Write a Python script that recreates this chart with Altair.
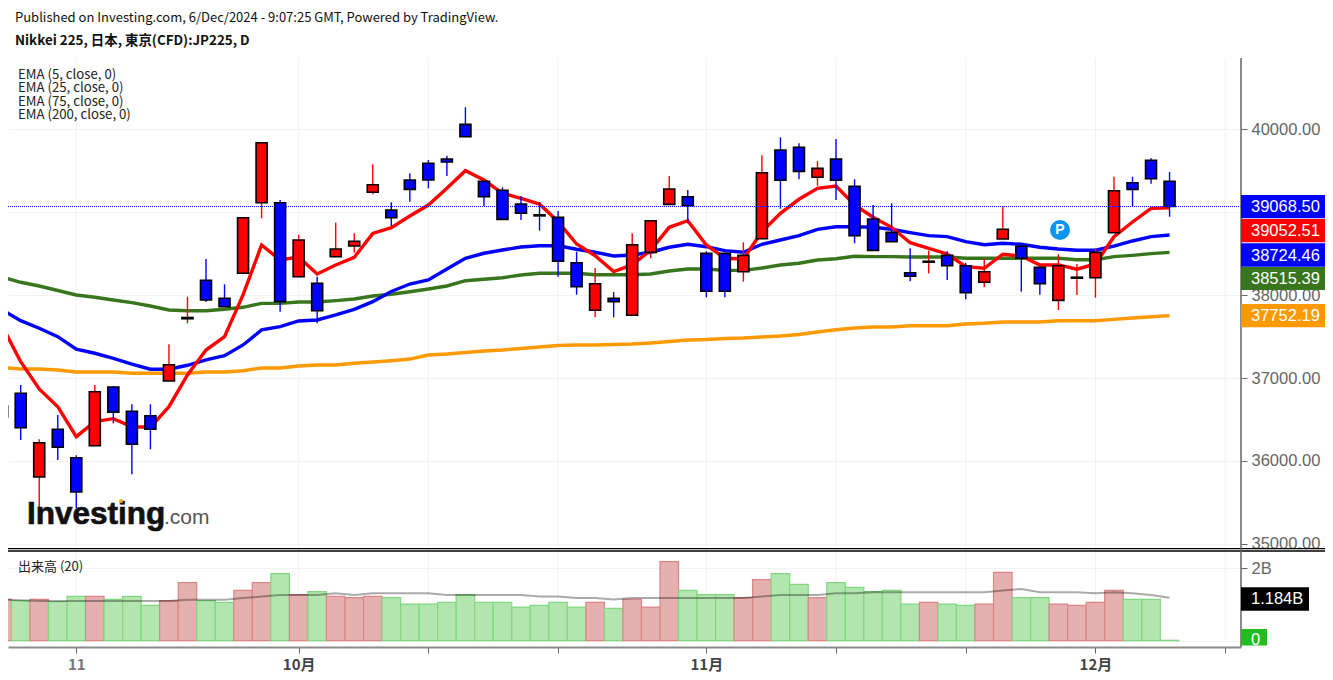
import altair as alt
import pandas as pd

HEADER = "Published on Investing.com, 6/Dec/2024 - 9:07:25 GMT, Powered by TradingView."
SYMBOL = "Nikkei 225, 日本, 東京(CFD):JP225, D"
LEGENDS = ["EMA (5, close, 0)", "EMA (25, close, 0)", "EMA (75, close, 0)", "EMA (200, close, 0)"]

bar_index = list(range(-1, 63))
opens = [36530,36816,35806,36382,36039,36184,36892,36599,36546,36964,37715,38179,37962,38263,39114,39114,38222,38142,38463,38592,39240,39026,39388,39590,39641,40060,39373,39264,39099,38968,38938,38391,37817,37962,37757,38516,39095,39187,38504,38504,38282,38680,39750,39783,39421,39641,39312,38918,38757,38270,38397,38480,38355,38155,38677,38589,38335,37937,38204,38210,38753,39356,39626,39373]
highs = [36700,36916,36261,36554,36068,36916,36904,36683,36683,37407,37981,38435,38130,38934,39838,39147,38725,38222,38873,38745,39578,39119,39469,39629,39681,40265,39373,39300,39195,39119,39014,38524,38327,38037,38745,38897,39436,39268,38528,38510,38637,39686,39903,39831,39617,39883,39397,39087,39107,38565,38536,38528,38387,38432,39075,38600,38345,38492,38375,38565,39428,39428,39650,39485]
lows = [36480,36253,35433,36011,35433,36184,36454,35839,36140,36964,37660,37917,37857,38263,38926,37800,38222,37660,38463,38511,39216,38833,39127,39288,39436,39910,39075,38914,38906,38777,38222,38005,37732,37732,37757,38444,39095,38866,37974,37974,38162,38680,39042,39397,39319,39147,38625,38540,38644,38167,38263,38182,37949,38094,38677,38041,38005,37820,38001,37969,38753,39075,39344,38946]
closes = [36663,36401,36220,36165,35625,36835,36587,36201,36382,37161,37730,37941,37860,38934,39838,37921,38665,37812,38556,38649,39332,38934,39276,39388,39605,39910,39187,38914,38987,38956,38408,38101,38138,37921,38608,38897,39280,39078,38046,38046,38480,39476,39385,39493,39529,39386,38717,38540,38644,38227,38409,38355,38029,38282,38794,38444,38138,38355,38216,38516,39259,39276,39404,39068.5]
ema5 = [37628,37197,36868,36654,36293,36474,36510,36413,36406,36654,37037,37338,37498,38002,38605,38424,38460,38255,38364,38456,38745,38813,38954,39087,39288,39501,39388,39228,39168,39099,38886,38617,38475,38283,38364,38544,38818,38898,38605,38444,38436,38765,38987,39156,39288,39316,39087,38939,38818,38632,38565,38496,38343,38324,38493,38472,38364,38364,38312,38376,38705,38882,39047,39052.51]
ema25 = [37821,37692,37600,37499,37347,37299,37238,37169,37106,37106,37154,37218,37270,37399,37580,37619,37688,37700,37761,37829,37921,38044,38134,38183,38315,38444,38505,38544,38581,38596,38596,38553,38517,38472,38484,38517,38577,38613,38584,38536,38517,38613,38665,38717,38794,38825,38825,38818,38794,38753,38717,38705,38645,38608,38625,38613,38577,38556,38541,38541,38592,38653,38705,38724.46]
ema75 = [38218,38155,38110,38056,38002,37974,37941,37909,37869,37821,37812,37812,37829,37853,37901,37901,37917,37917,37933,37953,37990,38010,38041,38074,38110,38174,38191,38210,38243,38263,38263,38263,38246,38246,38246,38255,38291,38315,38315,38299,38299,38327,38363,38384,38424,38439,38468,38464,38464,38460,38460,38460,38444,38444,38444,38444,38444,38444,38427,38427,38464,38480,38500,38515.39]
ema200 = [37127,37109,37109,37097,37073,37073,37073,37057,37057,37057,37057,37073,37073,37088,37121,37121,37145,37157,37157,37178,37193,37209,37229,37278,37290,37308,37326,37338,37356,37374,37392,37398,37398,37404,37410,37422,37441,37459,37465,37477,37483,37495,37507,37525,37555,37583,37603,37615,37615,37631,37631,37631,37652,37660,37676,37676,37676,37691,37691,37691,37708,37724,37740,37752.19]
volume = [1.142,1.105,1.142,1.077,1.225,1.225,1.142,1.225,0.976,1.105,1.602,1.105,1.059,1.390,1.602,1.851,1.271,1.354,1.225,1.188,1.225,1.188,1.013,1.013,1.059,1.271,1.059,1.059,0.930,0.976,1.059,0.930,1.059,0.893,1.142,0.930,2.182,1.390,1.271,1.271,1.188,1.685,1.851,1.556,1.188,1.602,1.473,1.354,1.390,1.013,1.059,1.013,0.976,1.013,1.888,1.188,1.188,1.013,0.976,1.059,1.390,1.142,1.142,0.012]
vol_ma = [1.14,1.12,1.10,1.10,1.10,1.10,1.10,1.10,1.10,1.10,1.13,1.13,1.13,1.18,1.22,1.26,1.26,1.26,1.31,1.26,1.31,1.31,1.31,1.31,1.26,1.26,1.26,1.26,1.26,1.22,1.22,1.18,1.18,1.14,1.18,1.18,1.18,1.18,1.18,1.18,1.18,1.22,1.26,1.26,1.26,1.31,1.31,1.34,1.34,1.34,1.34,1.34,1.34,1.34,1.39,1.43,1.34,1.34,1.34,1.31,1.34,1.31,1.26,1.184]

tick_index = [3, 15, 22, 29, 37, 44, 51, 58, 65]
tick_labels = ["11", "10月", "", "", "11月", "", "", "12月", ""]
price_ticks = [35000, 36000, 37000, 38000, 39000, 40000]
vol_ticks = [0, 2]
last_price = 39068.5
price_tags = [("39068.50", "#0000ff"), ("39052.51", "#ff0000"), ("38724.46", "#0000ff"), ("38515.39", "#38761d"), ("37752.19", "#ff9900")]

df = pd.DataFrame(dict(i=bar_index, o=opens, h=highs, l=lows, c=closes, ema5=ema5, ema25=ema25,
                       ema75=ema75, ema200=ema200, vol=volume, ma=vol_ma))
ticks = pd.DataFrame({"i": tick_index})
one = pd.DataFrame({"a": [0]})

W, H = 1233, 639
PAD_R = 84
RIGHT = 8 + W + PAD_R
SANS = "Liberation Sans"
NOTO = "Noto Sans CJK JP"
up = "datum.c >= datum.o"

xs = alt.Scale(domain=[-0.685, 65.855], nice=False, zero=False, padding=0)
ps = alt.Scale(domain=[34950, 40860], range=[540, 50], nice=False, zero=False)
vs = alt.Scale(domain=[0, 2.5], range=[632.7, 542.2], nice=False, zero=True)

lab_expr = " : ".join(f"datum.value === {t} ? '{l}'" for t, l in zip(tick_index, tick_labels)) + " : ''"
x_axis = alt.Axis(values=tick_index, labelExpr=lab_expr, title=None, grid=False, domainColor="#8a8a8a", domainWidth=2,
                  tickColor="#666666", tickSize=6, tickWidth=1, labelFont=NOTO, labelFontSize=15, labelPadding=4,
                  labelFontWeight="bold",
                  labelColor={"condition": {"test": "datum.value === 3", "value": "#777777"}, "value": "#444444"},
                  labelOverlap=False, labelFlush=False)
p_axis = alt.Axis(orient="right", values=price_ticks, format=".2f", title=None, grid=True, gridColor="#f2f2f2", gridWidth=1,
                  domain=False, tickColor="#666666", tickSize=6, labelColor="#666666", labelFont=SANS, labelFontSize=16.5,
                  labelPadding=4, labelOverlap=False)
v_axis = alt.Axis(orient="right", values=vol_ticks, labelExpr="datum.value === 2 ? '2B' : ''", title=None, grid=True,
                  gridColor="#f2f2f2", gridWidth=1, domain=False, tickColor="#666666", tickSize=6, labelColor="#666666",
                  labelFont=SANS, labelFontSize=16.5, labelPadding=4, labelOverlap=False)
xn = alt.X("i:Q", scale=xs, axis=x_axis)

base = alt.Chart(df)
vgrid = alt.Chart(ticks).mark_rule(color="#f2f2f2", strokeWidth=1).encode(
    x=xn, y=alt.value(50), y2=alt.value(632))


def ema(col, color):
    return base.mark_line(color=color, strokeWidth=3.4, clip=True).encode(
        x=xn, y=alt.Y(f"{col}:Q", scale=ps, axis=p_axis))


wicks = base.mark_rule(strokeWidth=1.4, clip=True).encode(
    x=xn, y=alt.Y("l:Q", scale=ps, axis=p_axis), y2="h:Q",
    color=alt.condition(up, alt.value("#ff0000"), alt.value("#0000ff")))
bodies = base.mark_bar(size=11, stroke="#000000", strokeWidth=1.6, clip=True).encode(
    x=xn, y=alt.Y("o:Q", scale=ps, axis=p_axis), y2="c:Q",
    fill=alt.condition(up, alt.value("#ff0000"), alt.value("#0000ff")))
lastline = alt.Chart(pd.DataFrame({"p": [last_price]})).mark_rule(color="#0000ff", strokeWidth=1, strokeDash=[1, 1]).encode(
    y=alt.Y("p:Q", scale=ps, axis=p_axis))
price = alt.layer(vgrid, ema("ema200", "#ff9900"), ema("ema75", "#38761d"), ema("ema25", "#0000ff"), ema("ema5", "#ff0000"),
                  wicks, bodies, lastline)

vbars = base.mark_bar(size=18.53, strokeWidth=1.2, clip=True).encode(
    x=xn, y=alt.Y("vol:Q", scale=vs, axis=v_axis),
    fill=alt.condition(up, alt.value("#e6b0b0"), alt.value("#b2e6ae")),
    stroke=alt.condition(up, alt.value("#dc8585"), alt.value("#80d880")))
vline = base.mark_line(color="#000000", opacity=0.33, strokeWidth=2, clip=True).encode(
    x=xn, y=alt.Y("ma:Q", scale=vs, axis=v_axis))
vol = alt.layer(vbars, vline)


def text(s, px, py, size=12, font=NOTO, color="#222222", align="left", weight="normal", **kw):
    return alt.Chart(one).mark_text(text=s, font=font, fontSize=size, color=color, align=align, baseline="middle",
                                    fontWeight=weight, **kw).encode(x=alt.value(px - 8), y=alt.value(py - 8))


def box(x0, x1, y0, y1, color):
    return alt.Chart(one).mark_rect(color=color).encode(
        x=alt.value(x0 - 8), x2=alt.value(x1 - 8), y=alt.value(y0 - 8), y2=alt.value(y1 - 8))


def hline(x0, x1, y, color, w):
    return alt.Chart(one).mark_rule(color=color, strokeWidth=w).encode(
        x=alt.value(x0 - 8), x2=alt.value(x1 - 8), y=alt.value(y - 8))


notes = [text(HEADER, 15, 18, 13, color="#111111"), text(SYMBOL, 15, 41, 13.4, color="#111111", weight="bold")]
for s, yy in zip(LEGENDS, [74.5, 88, 101.5, 115]):
    notes.append(text(s, 18, yy, 13.2))
notes.append(text("出来高 (20)", 18, 567, 13))
notes += [hline(8, RIGHT, 548.7, "#000000", 1.3), hline(8, RIGHT, 551, "#000000", 1.3)]
notes.append(alt.Chart(one).mark_rule(color="#666666", strokeWidth=1.5).encode(
    x=alt.value(W), y=alt.value(50), y2=alt.value(H)))
for (s, col), (y0, y1) in zip(price_tags, [(195, 218.3), (219, 242.3), (243.3, 266.7), (267, 290), (304, 327.3)]):
    notes += [box(1241, RIGHT, y0, y1, col), text(s, 1251, (y0 + y1) / 2 + 0.5, 16.5, SANS, "#ffffff")]
notes += [box(1241, 1309, 587.3, 610.7, "#000000"), text("1.184B", 1251, 599, 16.5, SANS, "#ffffff")]
notes += [box(1241, 1267, 629, 645.5, "#22bb22"), text("0", 1251, 640, 16.5, SANS, "#ffffff")]
notes += [alt.Chart(one).mark_point(filled=True, color="#0a96f0", size=400, opacity=1).encode(x=alt.value(1060 - 8), y=alt.value(230 - 8)),
          text("P", 1060, 230, 14, SANS, "#ffffff", "center", "bold")]
notes += [text("Investing", 27, 515, 31.5, SANS, "#111111", weight="bold", stroke="#111111", strokeWidth=0.7),
          text(".com", 164, 518, 21, SANS, "#555555"),
          alt.Chart(one).mark_point(filled=True, color="#f5a623", size=16, opacity=1).encode(x=alt.value(121 - 8), y=alt.value(501 - 8))]

chart = alt.layer(price, vol, *notes).resolve_scale(y="independent").properties(
    width=W, height=H, autosize=alt.AutoSizeParams(type="none"),
    padding={"left": 0, "top": 0, "right": PAD_R, "bottom": 25}, background="#ffffff"
).configure_view(strokeWidth=0)

chart.save("out.html", embed_options={"renderer": "svg", "actions": False})
